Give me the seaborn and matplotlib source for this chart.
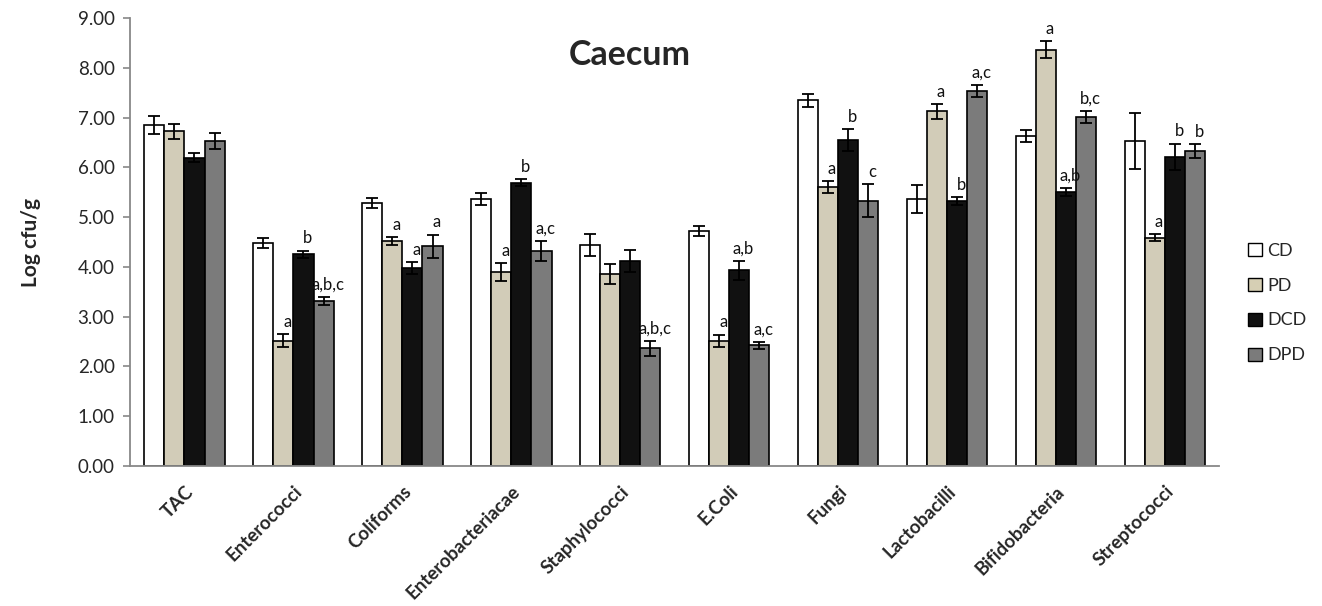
import matplotlib
matplotlib.use("Agg")
import matplotlib.pyplot as plt
import seaborn as sns
import pandas as pd
import numpy as np
from matplotlib.patches import Patch
from matplotlib.container import BarContainer

categories = ["TAC", "Enterococci", "Coliforms", "Enterobacteriacae", "Staphylococci",
              "E.Coli", "Fungi", "Lactobacilli", "Bifidobacteria", "Streptococci"]
groups = ["CD", "PD", "DCD", "DPD"]

cd_vals = [6.86, 4.49, 5.29, 5.36, 4.45, 4.72, 7.35, 5.36, 6.63, 6.53]
pd_vals = [6.73, 2.52, 4.52, 3.90, 3.86, 2.52, 5.60, 7.13, 8.37, 4.59]
dcd_vals = [6.20, 4.26, 3.98, 5.69, 4.12, 3.93, 6.55, 5.32, 5.51, 6.21]
dpd_vals = [6.53, 3.32, 4.42, 4.32, 2.37, 2.43, 5.33, 7.54, 7.01, 6.33]

cd_err = [0.18, 0.10, 0.10, 0.12, 0.22, 0.10, 0.13, 0.28, 0.12, 0.57]
pd_err = [0.15, 0.13, 0.08, 0.18, 0.20, 0.12, 0.12, 0.15, 0.17, 0.07]
dcd_err = [0.10, 0.07, 0.12, 0.07, 0.22, 0.19, 0.22, 0.08, 0.08, 0.27]
dpd_err = [0.16, 0.08, 0.23, 0.20, 0.15, 0.07, 0.33, 0.12, 0.12, 0.14]

cd_lab = ["", "", "", "", "", "", "", "", "", ""]
pd_lab = ["", "a", "a", "a", "", "a", "a", "a", "a", "a"]
dcd_lab = ["", "b", "a", "b", "", "a,b", "b", "b", "a,b", "b"]
dpd_lab = ["", "a,b,c", "a", "a,c", "a,b,c", "a,c", "c", "a,c", "b,c", "b"]

colors = ["#ffffff", "#d6cfb4", "#111111", "#7b7b7b"]

sns.set_style("white")
plt.rcParams["font.family"] = ["Lato", "DejaVu Sans"]

rows = []
for g, vals in zip(groups, [cd_vals, pd_vals, dcd_vals, dpd_vals]):
    for c, v in zip(categories, vals):
        rows.append({"cat": c, "group": g, "val": v})
df = pd.DataFrame(rows)

fig = plt.figure(figsize=(13.22, 6.06), dpi=100)
ax = fig.add_axes([0.0983, 0.231, 0.824, 0.739])

sns.barplot(data=df, x="cat", y="val", hue="group", order=categories, hue_order=groups,
            palette=colors, width=0.74, edgecolor="black", linewidth=1.2,
            errorbar=None, legend=False, ax=ax)

bar_conts = [c for c in ax.containers if isinstance(c, BarContainer)]
errs = [cd_err, pd_err, dcd_err, dpd_err]
labs = [cd_lab, pd_lab, dcd_lab, dpd_lab]
for gi, cont in enumerate(bar_conts):
    for ci, bar in enumerate(list(cont.patches)):
        xc = bar.get_x() + bar.get_width() / 2
        h = bar.get_height()
        e = errs[gi][ci]
        ax.errorbar(xc, h, yerr=e, fmt="none", ecolor="black", elinewidth=1.3,
                    capsize=4.5, capthick=1.3, zorder=5)
        t = labs[gi][ci]
        if t:
            ax.annotate(t, (xc, h + e), xytext=(3, 3), textcoords="offset points",
                        ha="center", va="bottom", fontsize=12, color="#111111",
                        zorder=10)

ax.set_ylim(0, 9)
ax.set_xlim(-0.5, len(categories) - 0.5)
ax.set_yticks(np.arange(0, 9.01, 1))
ax.set_yticklabels([f"{v:.2f}" for v in np.arange(0, 9.01, 1)], fontsize=13.5)
ax.set_xticks(range(len(categories)))
ax.set_xticklabels(categories, rotation=45, ha="right", rotation_mode="anchor",
                   fontsize=13.5, fontweight="bold")
ax.set_xticks(np.arange(-0.5, len(categories), 1), minor=True)
ax.tick_params(axis="x", which="major", length=0, pad=12)
ax.tick_params(axis="x", which="minor", length=6, color="#888888", width=1.2)
ax.tick_params(axis="y", length=5, color="#888888", width=1.2, left=True, pad=6)
for s in ["top", "right"]:
    ax.spines[s].set_visible(False)
for s in ["left", "bottom"]:
    ax.spines[s].set_color("#888888")
    ax.spines[s].set_linewidth(1.3)
ax.set_xlabel("")
ax.set_ylabel("Log cfu/g", fontsize=15, fontweight="bold", labelpad=26)
fig.text(0.4766, 0.909, "Caecum", fontsize=24.5, fontweight="bold",
         ha="center", va="center")

handles = [Patch(facecolor=c, edgecolor="black", linewidth=1.0) for c in colors]
fig.legend(handles, groups, loc="center left", bbox_to_anchor=(0.932, 0.5),
           frameon=False, fontsize=13, handlelength=0.75, handleheight=0.75,
           handletextpad=0.3, labelspacing=1.05)

fig.savefig("out.png", dpi=100)
